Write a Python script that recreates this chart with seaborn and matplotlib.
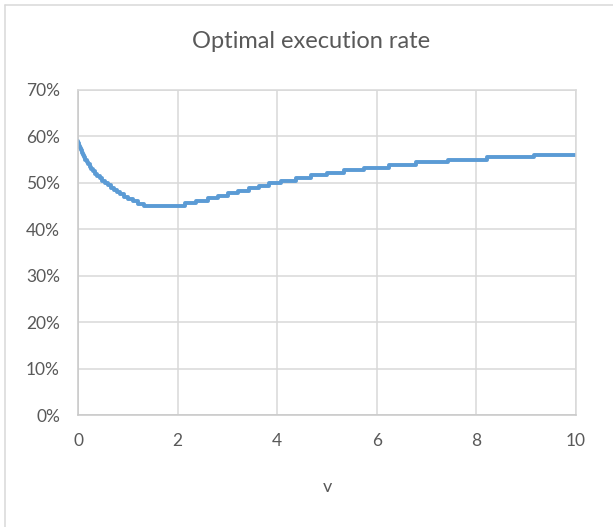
import numpy as np
import pandas as pd
import seaborn as sns
import matplotlib.pyplot as plt
from matplotlib.lines import Line2D
from matplotlib.ticker import PercentFormatter

# step points of the optimal execution rate curve (v, rate in %)
v_points = [0.00, 0.01, 0.02, 0.04, 0.06, 0.08, 0.10, 0.12, 0.15, 0.18,
            0.21, 0.24, 0.27, 0.31, 0.35, 0.39, 0.44, 0.49, 0.54, 0.60,
            0.66, 0.72, 0.78, 0.85, 0.93, 1.01, 1.10, 1.20, 1.32,
            2.14, 2.37, 2.61, 2.81, 3.01, 3.21, 3.44, 3.64, 3.84, 4.07,
            4.37, 4.67, 4.99, 5.34, 5.74, 6.24, 6.79, 7.43, 8.21, 9.16, 10.00]
rate_points = [59.0, 58.5, 58.0, 57.5, 57.0, 56.5, 56.0, 55.5, 55.0, 54.5,
               54.0, 53.5, 53.0, 52.5, 52.0, 51.5, 51.0, 50.5, 50.0, 49.5,
               49.0, 48.5, 48.0, 47.5, 47.0, 46.5, 46.0, 45.5, 45.0,
               45.6, 46.1, 46.7, 47.2, 47.8, 48.3, 48.9, 49.4, 50.0, 50.5,
               51.1, 51.6, 52.2, 52.7, 53.3, 53.8, 54.4, 54.9, 55.5, 56.0, 56.0]

x_ticks = [0, 2, 4, 6, 8, 10]
y_ticks = [0, 0.1, 0.2, 0.3, 0.4, 0.5, 0.6, 0.7]

df = pd.DataFrame({"v": v_points, "rate": np.array(rate_points) / 100})

sns.set_style("white")
plt.rcParams["font.family"] = ["Lato", "DejaVu Sans"]
text_col = "#595959"
grid_col = "#D9D9D9"

W, H = 613, 527
fig = plt.figure(figsize=(W / 100, H / 100), dpi=100)
ax = fig.add_axes([78 / W, (H - 415) / H, 498 / W, 325 / H])

sns.lineplot(data=df, x="v", y="rate", ax=ax, color="#5B9BD5", linewidth=2.8,
             drawstyle="steps-post")

ax.set_xlim(0, 10)
ax.set_ylim(0, 0.7)
ax.set_xticks(x_ticks)
ax.set_yticks(y_ticks)
ax.yaxis.set_major_formatter(PercentFormatter(1.0, decimals=0))
ax.grid(True, color=grid_col, linewidth=1.1)
ax.set_axisbelow(True)
for s in ax.spines.values():
    s.set_color(grid_col)
    s.set_linewidth(1.1)
ax.spines["left"].set_color("#C8C8C8")
ax.spines["bottom"].set_color("#C8C8C8")
ax.tick_params(length=0, labelsize=12.5, labelcolor=text_col)
ax.tick_params(axis="y", pad=13)
ax.tick_params(axis="x", pad=13)

ax.set_ylabel("")
ax.set_xlabel("v", fontsize=13, color=text_col)
ax.xaxis.set_label_coords(0.5, -(487 - 415) / 325)
ax.xaxis.label.set_va("center")

fig.text(311 / W, 1 - 42 / H, "Optimal execution rate", ha="center", va="center",
         fontsize=17, color=text_col)

# chart area border (left and top edges visible)
fig.add_artist(Line2D([4.5 / W, 4.5 / W], [0, 1 - 4.5 / H], transform=fig.transFigure,
                      color=grid_col, linewidth=1.1))
fig.add_artist(Line2D([4.5 / W, 1], [1 - 4.5 / H, 1 - 4.5 / H], transform=fig.transFigure,
                      color=grid_col, linewidth=1.1))

fig.savefig("out.png", dpi=100)
